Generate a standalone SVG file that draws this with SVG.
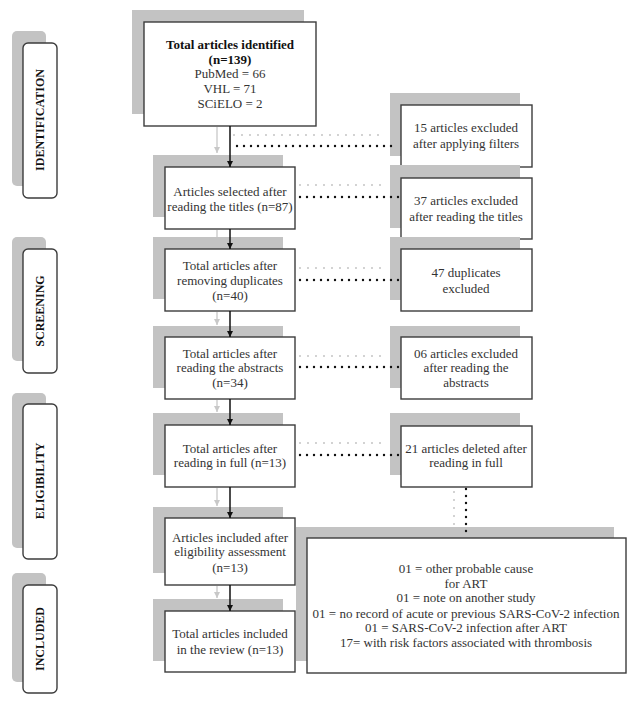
<svg xmlns="http://www.w3.org/2000/svg" width="639" height="706" viewBox="0 0 639 706">
<defs>
<style>
.sh{fill:#c3c3c3}
.bx{fill:#fff;stroke:#3c3c3c;stroke-width:1.4}
.t{font-family:"Liberation Serif","Times New Roman",serif;font-size:13px;fill:#333;text-anchor:middle}
.b{font-weight:bold;fill:#111}
.lbl{font-family:"Liberation Serif","Times New Roman",serif;font-size:12px;font-weight:bold;fill:#111;text-anchor:middle}
.ar{stroke:#111;stroke-width:1.5;fill:none}
.ag{stroke:#c8c8c8;stroke-width:1.3;fill:none}
.dk{stroke:#111;stroke-width:2.4;stroke-linecap:round;stroke-dasharray:0 7;fill:none}
.dg{stroke:#c4c4c4;stroke-width:2;stroke-linecap:round;stroke-dasharray:0 8;fill:none}
</style>
<marker id="mk" viewBox="0 0 10 10" refX="10" refY="5" markerWidth="6" markerHeight="6" orient="auto" markerUnits="userSpaceOnUse"><path d="M0,0L10,5L0,10z" fill="#111"/></marker>
<marker id="mg" viewBox="0 0 10 10" refX="10" refY="5" markerWidth="6" markerHeight="6" orient="auto" markerUnits="userSpaceOnUse"><path d="M0,0L10,5L0,10z" fill="#c8c8c8"/></marker>
</defs>
<rect width="639" height="706" fill="#fff"/>

<g id="lbl-identification">
<rect class="sh" x="12" y="31" width="34" height="155" rx="5"/>
<rect class="bx" x="23" y="43" width="34" height="155" rx="5"/>
<text class="lbl" transform="translate(44,120) rotate(-90)">IDENTIFICATION</text>
</g>
<g id="lbl-screening">
<rect class="sh" x="12" y="237" width="34" height="124" rx="5"/>
<rect class="bx" x="23" y="249" width="34" height="124" rx="5"/>
<text class="lbl" transform="translate(44,311) rotate(-90)">SCREENING</text>
</g>
<g id="lbl-eligibility">
<rect class="sh" x="12" y="393" width="34" height="155" rx="5"/>
<rect class="bx" x="23" y="404" width="34" height="155" rx="5"/>
<text class="lbl" transform="translate(44,481) rotate(-90)">ELIGIBILITY</text>
</g>
<g id="lbl-included">
<rect class="sh" x="12" y="573" width="34" height="109" rx="5"/>
<rect class="bx" x="23" y="585" width="34" height="108" rx="5"/>
<text class="lbl" transform="translate(44,639) rotate(-90)">INCLUDED</text>
</g>

<g id="n1">
<rect class="sh" x="132" y="10" width="172" height="104"/>
<rect class="bx" x="144" y="22" width="172" height="104"/>
<text class="t b" x="230" y="49">Total articles identified</text>
<text class="t b" x="230" y="64">(n=139)</text>
<text class="t" x="230" y="78">PubMed = 66</text>
<text class="t" x="230" y="93">VHL = 71</text>
<text class="t" x="230" y="108">SCiELO = 2</text>
</g>
<g id="n2">
<rect class="sh" x="153" y="155" width="130" height="62"/>
<rect class="bx" x="165" y="167" width="130" height="62"/>
<text class="t" x="230" y="196">Articles selected after</text>
<text class="t" x="230" y="211">reading the titles (n=87)</text>
</g>
<g id="n3">
<rect class="sh" x="153" y="237" width="130" height="62"/>
<rect class="bx" x="165" y="249" width="130" height="62"/>
<text class="t" x="230" y="270">Total articles after</text>
<text class="t" x="230" y="285">removing duplicates</text>
<text class="t" x="230" y="300">(n=40)</text>
</g>
<g id="n4">
<rect class="sh" x="153" y="326" width="130" height="62"/>
<rect class="bx" x="165" y="337" width="130" height="62"/>
<text class="t" x="230" y="358">Total articles after</text>
<text class="t" x="230" y="372">reading the abstracts</text>
<text class="t" x="230" y="387">(n=34)</text>
</g>
<g id="n5">
<rect class="sh" x="153" y="413" width="130" height="62"/>
<rect class="bx" x="165" y="425" width="130" height="62"/>
<text class="t" x="230" y="453">Total articles after</text>
<text class="t" x="230" y="467">reading in full (n=13)</text>
</g>
<g id="n6">
<rect class="sh" x="153" y="507" width="130" height="66"/>
<rect class="bx" x="165" y="518" width="130" height="67"/>
<text class="t" x="230" y="542">Articles included after</text>
<text class="t" x="230" y="556">eligibility assessment</text>
<text class="t" x="230" y="572">(n=13)</text>
</g>
<g id="n7">
<rect class="sh" x="153" y="599" width="130" height="62"/>
<rect class="bx" x="165" y="611" width="130" height="61"/>
<text class="t" x="230" y="638">Total articles included</text>
<text class="t" x="230" y="654">in the review (n=13)</text>
</g>

<g id="r1">
<rect class="sh" x="390" y="93" width="130" height="63"/>
<rect class="bx" x="401" y="105" width="131" height="62"/>
<text class="t" x="466" y="132">15 articles excluded</text>
<text class="t" x="466" y="148">after applying filters</text>
</g>
<g id="r2">
<rect class="sh" x="390" y="165" width="130" height="63"/>
<rect class="bx" x="401" y="178" width="131" height="61"/>
<text class="t" x="466" y="205">37 articles excluded</text>
<text class="t" x="466" y="221">after reading the titles</text>
</g>
<g id="r3">
<rect class="sh" x="390" y="237" width="130" height="63"/>
<rect class="bx" x="401" y="249" width="131" height="62"/>
<text class="t" x="466" y="277">47 duplicates</text>
<text class="t" x="466" y="293">excluded</text>
</g>
<g id="r4">
<rect class="sh" x="390" y="326" width="130" height="62"/>
<rect class="bx" x="401" y="337" width="131" height="62"/>
<text class="t" x="466" y="358">06 articles excluded</text>
<text class="t" x="466" y="372">after reading the</text>
<text class="t" x="466" y="387">abstracts</text>
</g>
<g id="r5">
<rect class="sh" x="390" y="413" width="130" height="62"/>
<rect class="bx" x="401" y="426" width="131" height="61"/>
<text class="t" x="466" y="453">21 articles deleted after</text>
<text class="t" x="466" y="467">reading in full</text>
</g>
<g id="r6">
<rect class="sh" x="296" y="527" width="318" height="134"/>
<rect class="bx" x="307" y="538" width="319" height="135"/>
<text class="t" x="466" y="573">01 = other probable cause</text>
<text class="t" x="466" y="588">for ART</text>
<text class="t" x="466" y="602">01 = note on another study</text>
<text class="t" x="466" y="618">01 = no record of acute or previous SARS-CoV-2 infection</text>
<text class="t" x="466" y="632">01 = SARS-CoV-2 infection after ART</text>
<text class="t" x="466" y="647">17= with risk factors associated with thrombosis</text>
</g>

<g id="connectors">
<path class="ag" d="M217,127V153" marker-end="url(#mg)"/>
<path class="ag" d="M217,230V237" />
<path class="ag" d="M217,312V325" marker-end="url(#mg)"/>
<path class="ag" d="M217,400V412" marker-end="url(#mg)"/>
<path class="ag" d="M217,488V506" marker-end="url(#mg)"/>
<path class="ag" d="M217,586V598" marker-end="url(#mg)"/>
<path class="ar" d="M230,126V167" marker-end="url(#mk)"/>
<path class="ar" d="M230,229V249" marker-end="url(#mk)"/>
<path class="ar" d="M230,311V337" marker-end="url(#mk)"/>
<path class="ar" d="M230,399V425" marker-end="url(#mk)"/>
<path class="ar" d="M230,487V518" marker-end="url(#mk)"/>
<path class="ar" d="M230,585V611" marker-end="url(#mk)"/>
<path class="dg" d="M234,135H384"/>
<path class="dk" d="M237,146H398"/>
<path class="dg" d="M300,185H386"/>
<path class="dk" d="M300,197H399"/>
<path class="dg" d="M300,268H386"/>
<path class="dk" d="M300,280H399"/>
<path class="dg" d="M300,356H386"/>
<path class="dk" d="M300,367H399"/>
<path class="dg" d="M300,443H386"/>
<path class="dk" d="M300,455H399"/>
<path class="dg" d="M454,492V525"/>
<path class="dk" d="M466,489V538"/>
</g>
</svg>
